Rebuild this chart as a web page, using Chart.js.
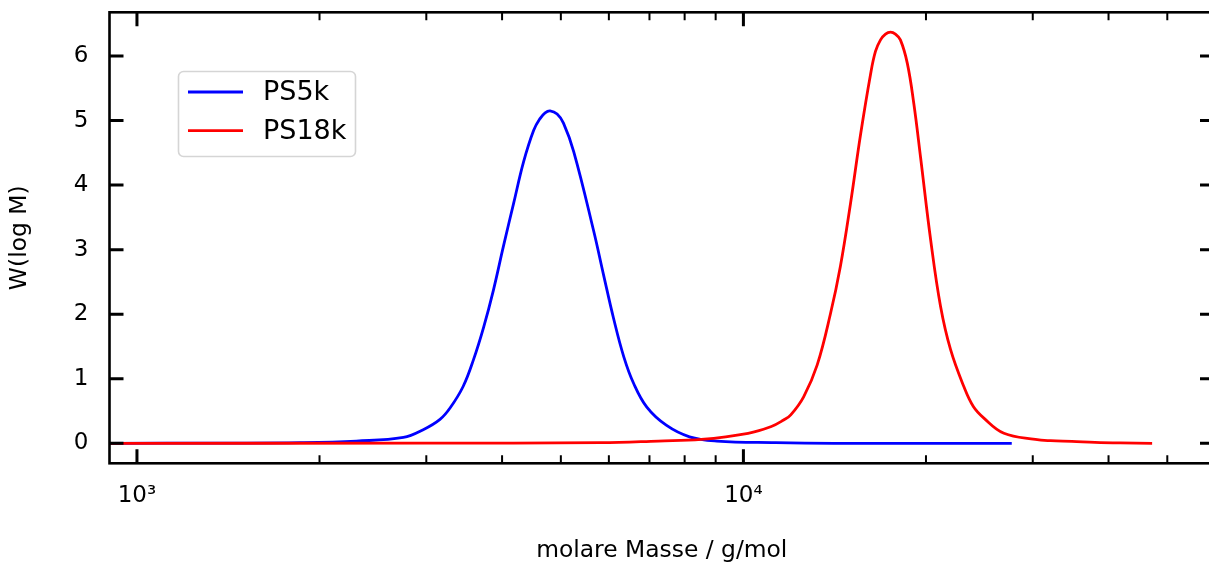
<!DOCTYPE html>
<html lang="de">
<head>
  <meta charset="UTF-8" />
  <title>Molmassenverteilung PS5k / PS18k</title>
  <script src="https://cdn.jsdelivr.net/npm/chart.js"></script>
  <style>
    html, body {
      margin: 0;
      padding: 0;
      background: #fff;
      overflow: hidden;
    }
  </style>
</head>
<body>
  <canvas id="gpcChart" width="1224" height="565"></canvas>

  <script>
    // molare Masse (g/mol) und W(log M)
    const ps5kMass = [900, 1400, 1860, 2300, 2750, 2965, 3160, 3285, 3450, 3590, 3730, 3870, 4020, 4180, 4340, 4510, 4620, 4710, 4800, 4930, 5050, 5250, 5660, 5880, 6110, 6350, 6590, 6930, 7460, 8150, 9040, 11300, 14100, 27700];
    const ps5kW    = [0, 0.003, 0.01, 0.035, 0.09, 0.21, 0.37, 0.55, 0.88, 1.30, 1.80, 2.37, 3.05, 3.72, 4.36, 4.85, 5.03, 5.12, 5.15, 5.10, 4.96, 4.52, 3.30, 2.61, 1.93, 1.34, 0.93, 0.56, 0.28, 0.10, 0.035, 0.01, 0, 0];

    const ps18kMass = [900, 3000, 5810, 7240, 8520, 10180, 11120, 11650, 11970, 12570, 13230, 13920, 14450, 15020, 15600, 16200, 16510, 16830, 17150, 17480, 17810, 18150, 18630, 19100, 19600, 20360, 21140, 21960, 23090, 23940, 24920, 26890, 30300, 32100, 34800, 38000, 41800, 47200];
    const ps18kW    = [0, 0.003, 0.01, 0.035, 0.06, 0.155, 0.26, 0.36, 0.44, 0.72, 1.21, 2.01, 2.74, 3.72, 4.78, 5.71, 6.07, 6.25, 6.34, 6.37, 6.34, 6.25, 5.89, 5.26, 4.42, 3.15, 2.12, 1.45, 0.88, 0.57, 0.39, 0.155, 0.06, 0.04, 0.03, 0.015, 0.006, 0];

    const seriesLabels = ["PS5k", "PS18k"];
    const seriesColors = ["#0000ff", "#ff0000"];

    const xTicks = [1000, 10000];
    const xTickLabels = ["10³", "10⁴"];
    const xMinorTicks = [2000, 3000, 4000, 5000, 6000, 7000, 8000, 9000, 20000, 30000, 40000, 50000];
    const yTicks = [0, 1, 2, 3, 4, 5, 6];

    const FONT = "'DejaVu Sans', sans-serif";

    function toPoints(xs, ys) {
      return xs.map((x, i) => ({ x: x, y: ys[i] }));
    }

    // Rahmen mit nach innen zeigenden Ticks (wie matplotlib) + Legende
    const framePlugin = {
      id: "frame",
      afterDatasetsDraw(chart) {
        const ctx = chart.ctx;
        const a = chart.chartArea;
        const xs = chart.scales.x, ys = chart.scales.y;
        ctx.save();
        ctx.strokeStyle = "#000";
        ctx.lineCap = "butt";

        // major ticks
        ctx.lineWidth = 3;
        ctx.beginPath();
        xTicks.forEach(v => {
          const px = xs.getPixelForValue(v);
          ctx.moveTo(px, a.bottom); ctx.lineTo(px, a.bottom - 14);
          ctx.moveTo(px, a.top); ctx.lineTo(px, a.top + 14);
        });
        yTicks.forEach(v => {
          const py = ys.getPixelForValue(v);
          ctx.moveTo(a.left, py); ctx.lineTo(a.left + 14, py);
          ctx.moveTo(a.right, py); ctx.lineTo(a.right - 14, py);
        });
        ctx.stroke();

        // minor ticks
        ctx.lineWidth = 2;
        ctx.beginPath();
        xMinorTicks.forEach(v => {
          const px = xs.getPixelForValue(v);
          ctx.moveTo(px, a.bottom); ctx.lineTo(px, a.bottom - 8);
          ctx.moveTo(px, a.top); ctx.lineTo(px, a.top + 8);
        });
        ctx.stroke();

        // spines
        ctx.lineWidth = 2.6;
        ctx.strokeRect(a.left, a.top, a.right - a.left, a.bottom - a.top);

        // legend
        const bx = 178.5, by = 71.5, bw = 177, bh = 85;
        ctx.beginPath();
        ctx.roundRect(bx, by, bw, bh, 5);
        ctx.fillStyle = "rgba(255,255,255,0.8)";
        ctx.fill();
        ctx.strokeStyle = "#d5d5d5";
        ctx.lineWidth = 1.6;
        ctx.stroke();

        ctx.font = "27px " + FONT;
        ctx.textBaseline = "middle";
        ctx.textAlign = "left";
        chart.data.datasets.forEach((ds, i) => {
          const ly = 92 + i * 38.7;
          ctx.strokeStyle = ds.borderColor;
          ctx.lineWidth = 2.8;
          ctx.beginPath();
          ctx.moveTo(188, ly);
          ctx.lineTo(243, ly);
          ctx.stroke();
          ctx.fillStyle = "#000";
          ctx.fillText(ds.label, 263, ly + 1);
        });
        ctx.restore();
      }
    };

    const ctx = document.getElementById("gpcChart").getContext("2d");
    new Chart(ctx, {
      type: "line",
      data: {
        datasets: [
          {
            label: seriesLabels[0],
            data: toPoints(ps5kMass, ps5kW),
            borderColor: seriesColors[0],
            borderWidth: 2.8,
            pointRadius: 0,
            fill: false,
            tension: 0.4,
            order: 1
          },
          {
            label: seriesLabels[1],
            data: toPoints(ps18kMass, ps18kW),
            borderColor: seriesColors[1],
            borderWidth: 2.8,
            pointRadius: 0,
            fill: false,
            tension: 0.4,
            order: 0
          }
        ]
      },
      options: {
        responsive: false,
        animation: false,
        events: [],
        layout: { padding: { left: 0, right: 10, top: 12.3, bottom: 0 } },
        plugins: {
          legend: { display: false },
          tooltip: { enabled: false }
        },
        scales: {
          x: {
            type: "logarithmic",
            min: 901,
            max: 59700,
            grid: { display: false, drawTicks: false },
            border: { display: false },
            afterBuildTicks: s => { s.ticks = xTicks.map(v => ({ value: v })); },
            afterFit: s => { s.height = 101.7; s.paddingLeft = 0; s.paddingRight = 0; },
            ticks: {
              autoSkip: false,
              maxRotation: 0,
              padding: 19,
              color: "#000",
              font: { family: FONT, size: 23 },
              callback: v => xTickLabels[xTicks.indexOf(v)]
            },
            title: {
              display: true,
              text: "molare Masse / g/mol",
              color: "#000",
              font: { family: FONT, size: 23.4 },
              padding: { top: 0, bottom: 0 }
            }
          },
          y: {
            min: -0.31,
            max: 6.677,
            grid: { display: false, drawTicks: false },
            border: { display: false },
            afterBuildTicks: s => { s.ticks = yTicks.map(v => ({ value: v })); },
            afterFit: s => { s.width = 109.5; s.paddingTop = 0; s.paddingBottom = 0; },
            ticks: {
              padding: 21,
              color: "#000",
              font: { family: FONT, size: 23 }
            },
            title: {
              display: true,
              text: "W(log M)",
              color: "#000",
              font: { family: FONT, size: 23.4 },
              padding: { top: 5.7, bottom: 0 }
            }
          }
        }
      },
      plugins: [framePlugin]
    });
  </script>
</body>
</html>
